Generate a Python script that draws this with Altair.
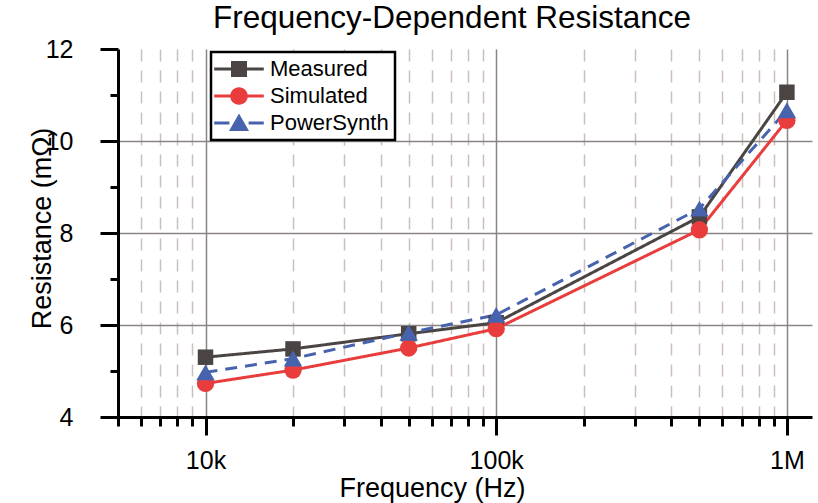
import altair as alt
import pandas as pd

# Frequency points (Hz) and resistance values (mOhm) for each series
freq_hz = [10000, 20000, 50000, 100000, 500000, 1000000]
measured = [5.30, 5.48, 5.81, 6.05, 8.35, 11.06]
simulated = [4.73, 5.02, 5.50, 5.92, 8.07, 10.45]
powersynth = [4.97, 5.27, 5.83, 6.22, 8.53, 10.67]

series_names = ["Measured", "Simulated", "PowerSynth"]
series_values = [measured, simulated, powersynth]
series_colors = ["#4a4543", "#e93c3c", "#4763ad"]
series_shapes = ["square", "circle", "triangle-up"]
series_sizes = [240, 300, 340]
series_dashes = [[1, 0], [1, 0], [12, 8]]

# Axis ticks: every decade subdivision on x, every unit on y
x_ticks = [5000, 6000, 7000, 8000, 9000,
           10000, 20000, 30000, 40000, 50000, 60000, 70000, 80000, 90000,
           100000, 200000, 300000, 400000, 500000, 600000, 700000, 800000, 900000,
           1000000]
x_major = [10000, 100000, 1000000]
x_major_labels = ["10k", "100k", "1M"]
y_ticks = [4, 5, 6, 7, 8, 9, 10, 11, 12]

rows = []
for name, vals in zip(series_names, series_values):
    for f, r in zip(freq_hz, vals):
        rows.append({"series": name, "freq": f, "resistance": r})
df = pd.DataFrame(rows)

FONT = "Liberation Sans"

major_test = " || ".join(f"datum.value == {v}" for v in x_major)
x_label_expr = "".join(
    f"datum.value == {v} ? '{lab}' : " for v, lab in zip(x_major, x_major_labels)
) + "''"

x_enc = alt.X(
    "freq:Q",
    title="Frequency (Hz)",
    scale=alt.Scale(type="log", domain=[5000, 1.22e6], nice=False),
    axis=alt.Axis(
        values=x_ticks,
        labelExpr=x_label_expr,
        labelOverlap=False,
        labelFlush=False,
        labelFontSize=25,
        labelPadding=13,
        tickSize={"condition": {"test": major_test, "value": 18}, "value": 9},
        gridColor={"condition": {"test": major_test, "value": "#8a8583"}, "value": "#c9bfbc"},
        gridDash={"condition": {"test": major_test, "value": []}, "value": [12, 9]},
        gridWidth=1.5,
        titleX=314,
        titleY=79,
        titleBaseline="alphabetic",
        titleFontSize=27,
    ),
)

y_enc = alt.Y(
    "resistance:Q",
    title="Resistance (mΩ)",
    scale=alt.Scale(domain=[4, 12], nice=False, zero=False),
    axis=alt.Axis(
        values=y_ticks,
        labelExpr="datum.value % 2 == 0 ? datum.label : ''",
        labelFontSize=25,
        labelPadding=27,
        tickSize={"condition": {"test": "datum.value % 2 == 1", "value": 8}, "value": 18},
        gridColor="#8a8583",
        gridWidth=1.5,
        gridOpacity={
            "condition": {"test": "datum.value % 2 == 1 || datum.value == 4 || datum.value == 12", "value": 0},
            "value": 1,
        },
        titleX=-68,
        titleY=179,
        titleAngle=-90,
        titleAlign="center",
        titleBaseline="alphabetic",
        titleFontSize=27,
    ),
)

# Legend glyphs: a line segment drawn through the series marker
seg = "M-3.1,-0.19H3.1V0.19H-3.1Z"
glyph_square = seg + " M-1,-1H1V1H-1Z"
glyph_circle = seg + " M-1.1,0A1.1,1.1 0 1,1 1.1,0A1.1,1.1 0 1,1 -1.1,0Z"
glyph_triangle = "M-3.1,-0.19H-1.2V0.19H-3.1Z M1.2,-0.19H3.1V0.19H1.2Z M0,-1.2L1.25,1L-1.25,1Z"
legend_glyphs = [glyph_square, glyph_circle, glyph_triangle]

legend = alt.Legend(
    title=None,
    orient="none",
    legendX=93,
    legendY=3,
    padding=6,
    fillColor="white",
    strokeColor="black",
    labelFont=FONT,
    labelFontSize=22,
    labelColor="black",
    labelOffset=20,
    symbolOffset=11,
    symbolSize=256,
    symbolStrokeWidth=0,
    symbolOpacity=1,
    rowPadding=5,
)

# Connecting lines and markers, one pair of layers per series
line_layers = []
marker_layers = []
for name, col, shp, sz, dash in zip(series_names, series_colors, series_shapes, series_sizes, series_dashes):
    base = alt.Chart(df).transform_filter(alt.datum.series == name)
    line_layers.append(
        base.mark_line(strokeWidth=3, color=col, strokeDash=dash).encode(x=x_enc, y=y_enc)
    )
    marker_layers.append(
        base.mark_point(filled=True, opacity=1, shape=shp, size=sz, color=col).encode(x=x_enc, y=y_enc)
    )

# Legend source: no rows are drawn, the scales carry the series entries
legend_layer = (
    alt.Chart(df)
    .transform_filter("false")
    .mark_point(filled=True, opacity=1)
    .encode(
        x=x_enc,
        y=y_enc,
        color=alt.Color("series:N", scale=alt.Scale(domain=series_names, range=series_colors), legend=legend),
        shape=alt.Shape("series:N", scale=alt.Scale(domain=series_names, range=legend_glyphs), legend=legend),
    )
)

chart = (
    alt.layer(*line_layers, *marker_layers, legend_layer)
    .properties(
        width=694,
        height=368,
        autosize=alt.AutoSizeParams(type="none"),
        padding={"left": 118, "top": 49, "right": 6, "bottom": 86},
        background="white",
        title=alt.TitleParams(
            "Frequency-Dependent Resistance",
            font=FONT,
            fontSize=31.5,
            fontWeight="normal",
            color="black",
            anchor="middle",
            baseline="alphabetic",
            dx=-13,
            dy=30,
            offset=8,
        ),
    )
    .configure_view(stroke=None)
    .configure_legend(strokeWidth=2.5)
    .configure_axis(
        labelFont=FONT,
        titleFont=FONT,
        titleFontWeight="normal",
        labelColor="black",
        titleColor="black",
        domainColor="black",
        domainWidth=3,
        tickColor="black",
        tickWidth=3,
    )
)

chart.save("out.html", embed_options={"renderer": "svg", "actions": False})
